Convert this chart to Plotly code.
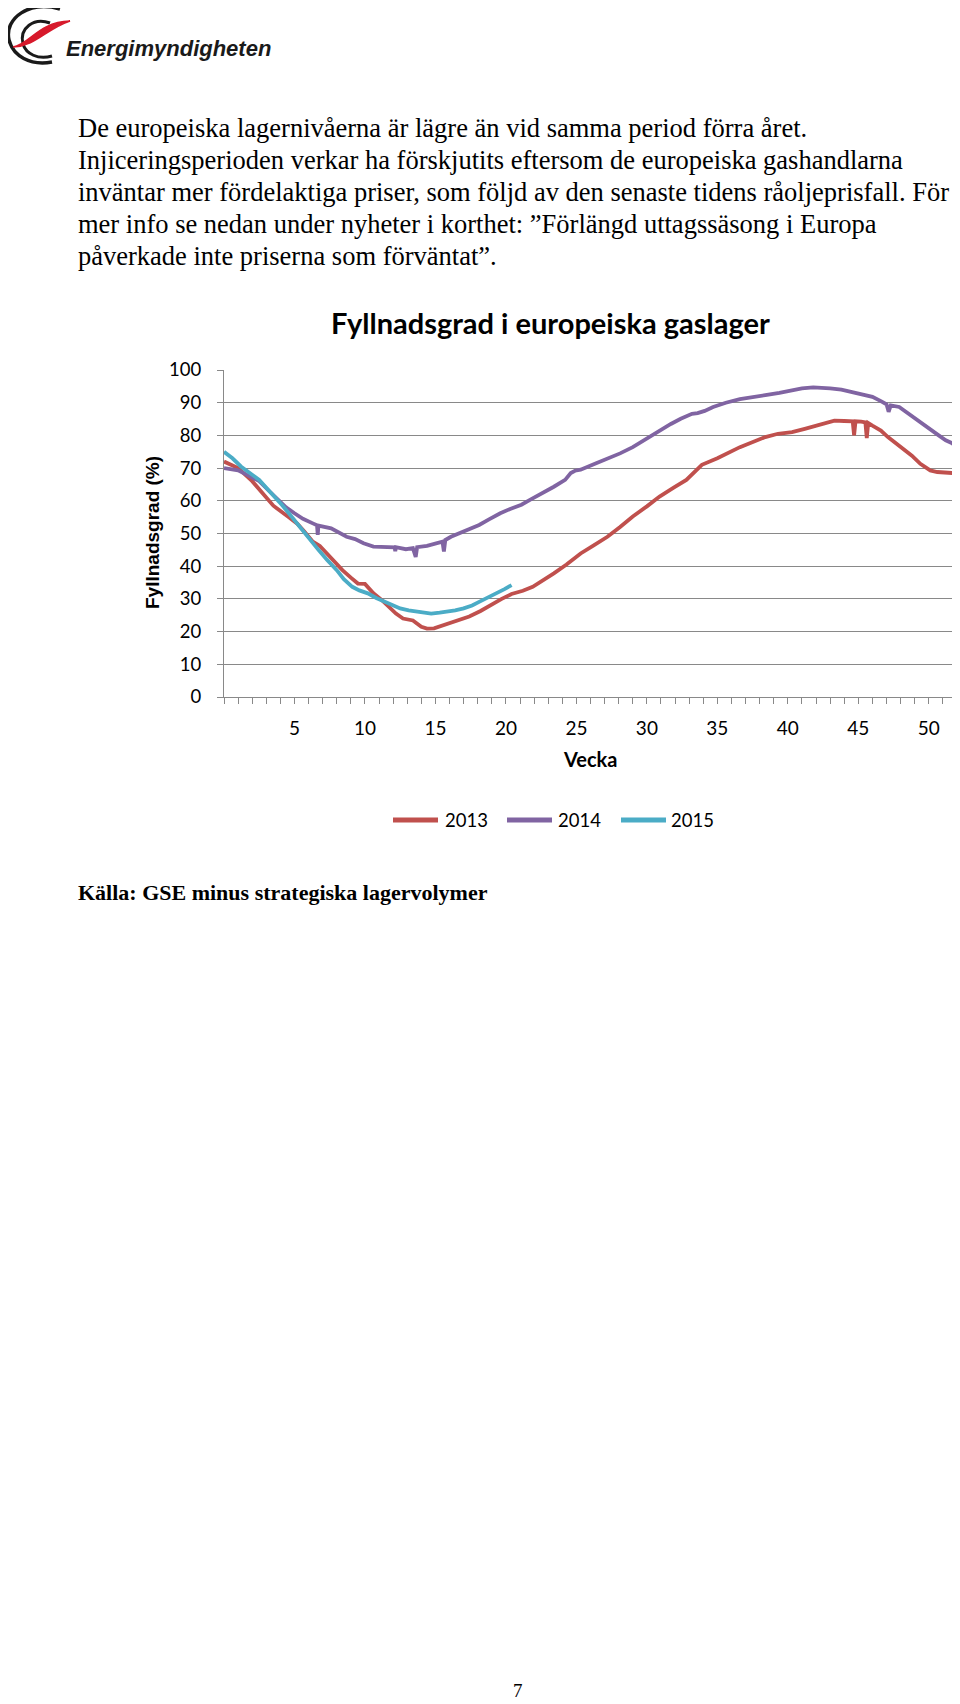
import plotly.graph_objects as go

# ---------------- data ----------------
weeks_2013 = [0, 1, 2, 2.7, 3.5, 4.6, 5.2, 5.7, 6.3, 6.8, 7.5, 8.4, 9.0, 9.5, 10.0, 10.6,
              11.2, 11.7, 12.2, 12.7, 13.4, 14.0, 14.4, 14.9, 15.9, 16.6, 17.4, 18.2,
              18.9, 19.7, 20.4, 21.2, 21.9, 22.6, 23.4, 24.3, 25.3, 26.2, 27.2, 28.1,
              29.0, 30.0, 30.9, 31.9, 32.8, 33.9, 35.0, 36.6, 37.5, 38.4, 39.3, 40.3,
              41.2, 42.2, 43.3, 44.0, 44.6, 44.7, 44.8, 45.2, 45.5, 45.6, 45.7, 46.0,
              46.6, 47.1, 47.6, 48.2, 48.8, 49.4, 50.1, 50.6, 51.2, 52]
fill_2013 = [72, 70, 66, 62.3, 58.5, 55, 53, 50.6, 47.5, 46.2, 43, 38.8, 36.5, 34.7, 34.6, 31.7,
             29.6, 27.6, 25.5, 24, 23.4, 21.5, 20.9, 21, 22.5, 23.5, 24.6, 26.3,
             28.1, 30, 31.5, 32.5, 33.7, 35.5, 37.8, 40.5, 43.9, 46.3, 49, 52,
             55.2, 58.3, 61.3, 64, 66.4, 71, 73, 76.4, 78, 79.5, 80.5, 81,
             82, 83.1, 84.5, 84.4, 84.3, 80, 84.3, 84.2, 84.0, 79.2, 83.8, 83,
             81.5, 79.5, 77.8, 76, 73.8, 71.3, 69.3, 68.8, 68.6, 68.4]

weeks_2014 = [0, 1, 1.6, 2.5, 3.2, 3.8, 4.4, 5, 5.6, 6.3, 6.6, 6.65, 6.7, 7.6, 8.2, 8.7,
              9.3, 9.9, 10.6, 11.2, 11.7, 12.1, 12.15, 12.2, 12.9, 13.4, 13.6, 13.7,
              14.4, 15.0, 15.5, 15.6, 15.7, 16.1, 16.6, 17.3, 18.1, 18.8, 19.6, 20.3,
              21.1, 21.8, 22.6, 23.4, 24.2, 24.6, 24.9, 25.3, 26.4, 27.2, 28.1, 29,
              30, 30.9, 31.7, 32.4, 33.2, 33.6, 34.1, 34.7, 35.6, 36.6, 37.5, 38.4,
              39.4, 40.3, 41.0, 41.8, 42.5, 43, 43.8, 44.5, 45.3, 46, 46.6, 47.0,
              47.15, 47.3, 47.9, 48.5, 49, 49.6, 50.1, 50.7, 51.2, 51.7, 52]
fill_2014 = [70, 69.3, 68, 66, 63, 60.3, 58, 56.2, 54.5, 53.1, 52.5, 49.6, 52.4, 51.6, 50.3, 49,
             48.3, 47, 46, 46, 45.8, 45.8, 44.6, 45.8, 45.2, 45.5, 42.8, 45.8,
             46.2, 47, 47.5, 44.5, 48, 49, 49.9, 51, 52.6, 54.3, 56.2, 57.5,
             58.8, 60.5, 62.3, 64.3, 66.4, 68.5, 69.2, 69.5, 71.5, 72.8, 74.5, 76.4,
             79, 81.6, 83.5, 85.1, 86.6, 86.8, 87.5, 88.7, 90, 91.1, 91.6, 92.3,
             93, 93.9, 94.4, 94.7, 94.6, 94.4, 94, 93.3, 92.7, 91.8, 90.5, 89.5,
             87.2, 89.2, 88.7, 86.8, 85.1, 83.3, 81.6, 80, 78.5, 77.5, 75.4]

weeks_2015 = [0, 0.6, 1.2, 1.8, 2.5, 3.0, 3.6, 4.1, 4.6, 5.2, 5.7, 6.2, 6.7, 7.3, 8, 8.5,
              9.1, 9.6, 10.2, 10.8, 11.4, 12, 12.5, 13.1, 13.6, 14.2, 14.7, 15.3,
              15.9, 16.4, 17, 17.6, 18.1, 18.7, 19.3, 19.9, 20.4]
fill_2015 = [75, 73, 70.5, 68.5, 66.4, 64, 61.3, 58.8, 56.2, 53, 50, 47.5, 45, 42, 38.8, 36,
             33.7, 32.6, 31.7, 30.3, 29.1, 28, 27.1, 26.5, 26.1, 25.7, 25.5, 25.8,
             26.1, 26.5, 27.1, 28, 29.1, 30.3, 31.7, 33, 34.2]

series_names = ["2013", "2014", "2015"]
week_ticks = list(range(0, 53))
week_labels = [str(w) if (w % 5 == 0 and w > 0) else "" for w in week_ticks]
y_ticks = [0, 10, 20, 30, 40, 50, 60, 70, 80, 90, 100]

chart_title = "Fyllnadsgrad i europeiska gaslager"
y_title = "Fyllnadsgrad (%)"
x_title = "Vecka"
paragraph = [
    "De europeiska lagernivåerna är lägre än vid samma period förra året.",
    "Injiceringsperioden verkar ha förskjutits eftersom de europeiska gashandlarna",
    "inväntar mer fördelaktiga priser, som följd av den senaste tidens råoljeprisfall. För",
    "mer info se nedan under nyheter i korthet: \u201dFörlängd uttagssäsong i Europa",
    "påverkade inte priserna som förväntat\u201d.",
]
source_text = "Källa: GSE minus strategiska lagervolymer"
logo_text = "Energimyndigheten"
page_number = "7"

# ---------------- layout geometry (page pixels; body margin is 8px) ----------------
BODY = 8
W, H = 952, 1696
ML, MR, MT, MB = 216, 3, 362, 1007
PW, PH = W - ML - MR, H - MT - MB


def pxx(x):
    return (x - BODY - ML) / PW


def pyy(y):
    return (H - MB - (y - BODY)) / PH


colors = ["#C0504D", "#8064A2", "#4BACC6"]
grid = "#898989"

fig = go.Figure()
for name, xs, ys, c in zip(series_names, [weeks_2013, weeks_2014, weeks_2015],
                           [fill_2013, fill_2014, fill_2015], colors):
    fig.add_trace(go.Scatter(x=xs, y=ys, mode="lines", name=name, showlegend=False,
                             line=dict(color=c, width=3.8)))

ann = []
for i, line in enumerate(paragraph):
    ann.append(dict(x=pxx(76), y=pyy(128 + i * 32.0), xref="paper", yref="paper",
                    text=line, showarrow=False, xanchor="left", yanchor="middle",
                    font=dict(family="Liberation Serif", size=26.5, color="black")))
ann.append(dict(x=pxx(550), y=pyy(323), xref="paper", yref="paper", text="<b>%s</b>" % chart_title,
                showarrow=False, xanchor="center", yanchor="middle",
                font=dict(family="Lato", size=29, color="black")))
ann.append(dict(x=pxx(152), y=pyy(533), xref="paper", yref="paper", text="<b>%s</b>" % y_title,
                showarrow=False, xanchor="center", yanchor="middle", textangle=-90,
                font=dict(family="Liberation Sans", size=19, color="black")))
ann.append(dict(x=pxx(590), y=pyy(759), xref="paper", yref="paper", text="<b>%s</b>" % x_title,
                showarrow=False, xanchor="center", yanchor="middle",
                font=dict(family="Lato", size=20, color="black")))
ann.append(dict(x=pxx(76), y=pyy(892), xref="paper", yref="paper", text="<b>%s</b>" % source_text,
                showarrow=False, xanchor="left", yanchor="middle",
                font=dict(family="Liberation Serif", size=22, color="black")))
ann.append(dict(x=pxx(518), y=pyy(1690), xref="paper", yref="paper", text=page_number,
                showarrow=False, xanchor="center", yanchor="middle",
                font=dict(family="Liberation Serif", size=19, color="black")))
ann.append(dict(x=pxx(64), y=pyy(49), xref="paper", yref="paper", text="<b><i>%s</i></b>" % logo_text,
                showarrow=False, xanchor="left", yanchor="middle",
                font=dict(family="Liberation Sans", size=22, color="#1a1a1a")))

# manual legend (line sample + label), page pixel positions
legend_lines = [(393, 438, 443), (507, 552, 556), (621, 666, 669)]
shapes = []
for (x0, x1, xt), name, c in zip(legend_lines, series_names, colors):
    shapes.append(dict(type="line", xref="paper", yref="paper", x0=pxx(x0), x1=pxx(x1),
                       y0=pyy(820), y1=pyy(820), line=dict(color=c, width=5)))
    ann.append(dict(x=pxx(xt), y=pyy(820), xref="paper", yref="paper", text=name,
                    showarrow=False, xanchor="left", yanchor="middle",
                    font=dict(family="Lato", size=18.5, color="black")))


def path_from(cmd_list):
    out = []
    for cmd, pts in cmd_list:
        out.append(cmd + " ".join("%.5f,%.5f" % (pxx(a), pyy(b)) for a, b in pts))
    return " ".join(out)


# logo: black double arc and red swoosh
outer = path_from([("M", [(60, 9)]), ("C", [(30, 0), (4, 18), (9, 40)]),
                   ("C", [(13, 56), (30, 66), (52, 62)])])
inner = path_from([("M", [(50, 23)]), ("C", [(34, 17), (19, 28), (23, 44)]),
                   ("C", [(26, 54), (38, 60), (52, 56)])])
for p, w in [(outer, 3.5), (inner, 3)]:
    shapes.append(dict(type="path", xref="paper", yref="paper", path=p,
                       line=dict(color="#1a1a1a", width=w)))
swoosh = path_from([("M", [(13, 47)]), ("C", [(30, 44), (38, 22), (70, 21)]),
                    ("C", [(46, 29), (36, 46), (13, 47)]), ("Z", [])])
shapes.append(dict(type="path", xref="paper", yref="paper", path=swoosh,
                   fillcolor="#D7192B", line=dict(color="#D7192B", width=1.5)))

fig.update_layout(
    width=W, height=H,
    margin=dict(l=ML, r=MR, t=MT, b=MB, pad=0),
    paper_bgcolor="white", plot_bgcolor="white",
    showlegend=False,
    annotations=ann,
    shapes=shapes,
    xaxis=dict(range=[0, 52], tickmode="array", tickvals=week_ticks, ticktext=week_labels,
               showgrid=False, showline=True, linecolor=grid, linewidth=1.3,
               ticks="outside", ticklen=6, tickcolor=grid, tickwidth=1,
               tickfont=dict(family="Lato", size=19, color="black"),
               ticklabelstandoff=8, zeroline=False, fixedrange=True),
    yaxis=dict(range=[0, 100], tickmode="array", tickvals=y_ticks,
               showgrid=True, gridcolor=grid, gridwidth=1.3, showline=True, linecolor=grid,
               linewidth=1.3, ticks="outside", ticklen=6, tickcolor=grid,
               tickfont=dict(family="Lato", size=18.5, color="black"),
               ticklabelstandoff=12, zeroline=False, fixedrange=True),
)

fig.write_html("out.html")
